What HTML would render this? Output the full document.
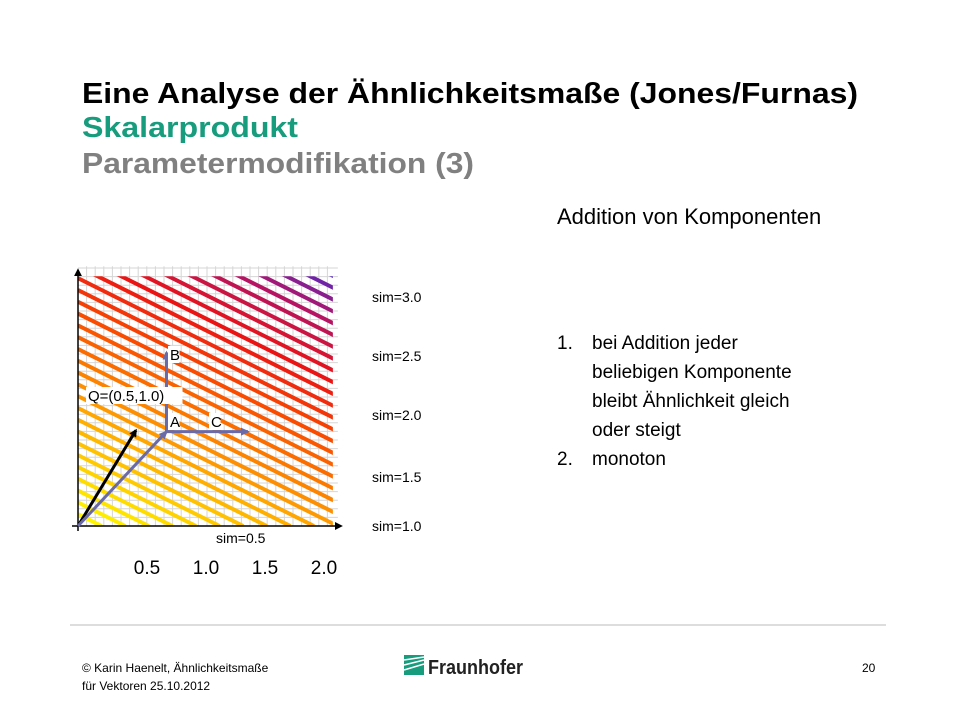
<!DOCTYPE html>
<html><head><meta charset="utf-8"><style>body{margin:0;background:#fff}svg{display:block}</style></head>
<body>
<svg id="s" width="960" height="720" viewBox="0 0 960 720" xmlns="http://www.w3.org/2000/svg" font-family="Liberation Sans, Arial, sans-serif">
<text x="82" y="103" font-size="29" font-weight="bold" fill="#000" textLength="776" lengthAdjust="spacingAndGlyphs">Eine Analyse der Ähnlichkeitsmaße (Jones/Furnas)</text>
<text x="82" y="137" font-size="29" font-weight="bold" fill="#179c7d" textLength="216" lengthAdjust="spacingAndGlyphs">Skalarprodukt</text>
<text x="82" y="173" font-size="29" font-weight="bold" fill="#808080" textLength="392" lengthAdjust="spacingAndGlyphs">Parametermodifikation (3)</text>
<text x="557" y="224" font-size="22" fill="#000">Addition von Komponenten</text>
<g font-size="19" fill="#000">
<text x="557" y="349">1.</text><text x="592" y="349">bei Addition jeder</text>
<text x="592" y="378">beliebigen Komponente</text>
<text x="592" y="407">bleibt Ähnlichkeit gleich</text>
<text x="592" y="436">oder steigt</text>
<text x="557" y="465">2.</text><text x="592" y="465">monoton</text>
</g>
<g id="chart"></g>
<g font-size="14" fill="#000">
<text x="372" y="302">sim=3.0</text><text x="372" y="361">sim=2.5</text><text x="372" y="420">sim=2.0</text><text x="372" y="482">sim=1.5</text><text x="372" y="531">sim=1.0</text>
</g>
<line x1="70" y1="625" x2="886" y2="625" stroke="#bbb" stroke-width="1"/>
<text x="82" y="672" font-size="12" fill="#000">© Karin  Haenelt, Ähnlichkeitsmaße</text>
<text x="82" y="690" font-size="12" fill="#000">für Vektoren 25.10.2012</text>
<text x="862" y="672" font-size="12" fill="#000">20</text>
<g>
<rect x="404" y="655" width="20" height="20" fill="#179c7d"/>
<path d="M404 660 L424 657 M404 665 L424 660 M404 670 L424 664" stroke="#fff" stroke-width="1.5"/>
<text x="428" y="674" font-size="20" font-weight="bold" fill="#222" textLength="95" lengthAdjust="spacingAndGlyphs">Fraunhofer</text>
</g>
</svg>
<script>
const xTicks=[0.5,1.0,1.5,2.0];
const xMax=2.16, yMax=2.1;
const simStep=0.1;
const simCount=32;
const vecQ=[0.5,1.0];
const arrowQ=[0.49,0.81];
const vecA=[0.75,0.8];
const vecB=[0.75,1.47];
const vecC=[1.44,0.8];
const X0=78,Y0=526,XU=118,YU=118;
const sx=v=>X0+v*XU, sy=v=>Y0-v*YU;
const NS='http://www.w3.org/2000/svg';
const g=document.getElementById('chart');
function mk(t,a,p){const e=document.createElementNS(NS,t);for(const k in a)e.setAttribute(k,a[k]);(p||g).appendChild(e);return e;}
const defs=mk('defs',{});
const cp=mk('clipPath',{id:'cp'},defs);mk('rect',{x:X0,y:sy(yMax)-2,width:sx(xMax)-X0,height:Y0-sy(yMax)+2},cp);
const mA=mk('marker',{id:'ab',markerWidth:8,markerHeight:8,refX:6,refY:4,orient:'auto',markerUnits:'userSpaceOnUse'},defs);mk('path',{d:'M0,0 L8,4 L0,8 z',fill:'#000'},mA);
const mB=mk('marker',{id:'ap',markerWidth:10,markerHeight:10,refX:7,refY:5,orient:'auto',markerUnits:'userSpaceOnUse'},defs);mk('path',{d:'M0,1 L9,5 L0,9 z',fill:'#6a6aa8'},mB);
const grid=mk('g',{stroke:'#d6d6d6','stroke-width':1});


for(let i=1;i*8.6<=sx(xMax)-X0+3;i++)mk('line',{x1:X0+i*8.6,y1:sy(yMax)-12,x2:X0+i*8.6,y2:Y0},grid);
for(let i=1;i*8.6<=Y0-sy(yMax)+12;i++)mk('line',{x1:X0,y1:Y0-i*8.6,x2:sx(xMax)+5,y2:Y0-i*8.6},grid);
function col(t){const stops=[[0,[255,255,0]],[0.3,[255,170,0]],[0.55,[250,80,0]],[0.72,[235,20,20]],[0.88,[180,20,100]],[1,[90,40,190]]];
for(let i=1;i<stops.length;i++){if(t<=stops[i][0]){const[a,c1]=stops[i-1],[b,c2]=stops[i];const f=(t-a)/(b-a);return 'rgb('+c1.map((v,j)=>Math.round(v+(c2[j]-v)*f)).join(',')+')';}}return 'rgb(90,40,190)';}
const lg=mk('g',{'clip-path':'url(#cp)','stroke-width':4});


for(let k=1;k<=simCount;k++){const c=k*simStep;
 const l=mk('line',{x1:sx(0),y1:sy(c/vecQ[1]),x2:sx(c/vecQ[0]),y2:sy(0),stroke:col(c/(simCount*simStep))},lg);
 
 }
const ax=mk('line',{x1:72,y1:Y0,x2:sx(xMax)+8,y2:Y0,stroke:'#000','stroke-width':1.5,'marker-end':'url(#ab)'});

const ay=mk('line',{x1:X0,y1:Y0+5,x2:X0,y2:sy(yMax)-8,stroke:'#000','stroke-width':1.5,'marker-end':'url(#ab)'});

xTicks.forEach(v=>{const t=mk('text',{x:sx(v)+10,y:574,'font-size':19,'text-anchor':'middle'});t.textContent=v.toFixed(1);
 });
const s5=mk('text',{x:216,y:543,'font-size':14});s5.textContent='sim=0.5';

function vec(x1,y1,x2,y2,st,m,n){const l=mk('line',{x1:sx(x1),y1:sy(y1),x2:sx(x2),y2:sy(y2),stroke:st,'stroke-width':3,'marker-end':m});
 }
vec(0,0,arrowQ[0],arrowQ[1],'#000','url(#ab)','vector-q');
vec(0,0,vecA[0],vecA[1],'#6a6aa8','url(#ap)','vector-a');
vec(vecA[0],vecA[1],vecB[0],vecB[1],'#6a6aa8','url(#ap)','vector-b');
vec(vecA[0],vecA[1],vecC[0],vecC[1],'#6a6aa8','url(#ap)','vector-c');
function lab(x,y,s,n){mk('rect',{x:x-2,y:y-14,width:s.length*8.5+3,height:17,fill:'#fff'});const t=mk('text',{x:x,y:y,'font-size':15});t.textContent=s;
 }
lab(170,360,'B','label-b');lab(88,401,'Q=(0.5,1.0)','label-q');lab(170,427,'A','label-a');lab(211,427,'C','label-c');
</script>
</body></html>
